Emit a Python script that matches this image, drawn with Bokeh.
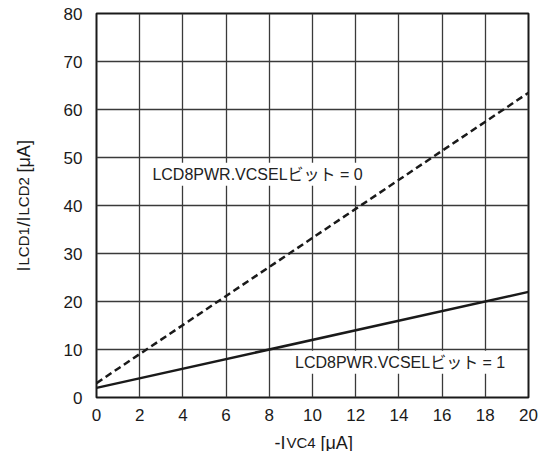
import math
from bokeh.plotting import figure
from bokeh.models import Label, Range1d, FixedTicker
from bokeh.layouts import column, row
from bokeh.embed import file_html
from bokeh.resources import INLINE

x_vals = [0, 20]
vcsel0 = [3.0, 63.5]
vcsel1 = [2.0, 22.0]
x_ticks = list(range(0, 21, 2))
y_ticks = list(range(0, 81, 10))
label0 = "LCD8PWR.VCSELビット = 0"
label1 = "LCD8PWR.VCSELビット = 1"
xlabel_parts = ["-I", "VC4", "[μA]"]
ylabel_parts = ["I", "LCD1", "/I", "LCD2", "[μA]"]

FONT = "Liberation Sans, Noto Sans CJK JP"
INK = "#1a1a1a"
YL_W = 40          # width of the y-title strip
MAIN_H = 425       # height of main figure
XL_H = 26          # height of the x-title strip


def blank(width, height):
    f = figure(width=width, height=height, output_backend="svg", toolbar_location=None,
               x_range=Range1d(0, width), y_range=Range1d(0, height),
               x_axis_location=None, y_axis_location=None,
               min_border=0, min_border_left=0, min_border_right=0,
               min_border_top=0, min_border_bottom=0)
    f.title.visible = False
    f.grid.visible = False
    f.outline_line_color = None
    f.background_fill_color = "white"
    f.border_fill_color = "white"
    return f


p = figure(frame_width=432, frame_height=384, output_backend="svg", toolbar_location=None,
           x_range=Range1d(0, 20), y_range=Range1d(0, 80),
           min_border_left=96 - YL_W, min_border_right=17, min_border_top=13,
           min_border_bottom=MAIN_H - 13 - 384)
p.background_fill_color = "white"
p.border_fill_color = "white"
p.outline_line_color = INK
p.outline_line_width = 2

for ax in (p.xaxis, p.yaxis):
    ax.axis_line_color = None
    ax.major_tick_line_color = None
    ax.minor_tick_line_color = None
    ax.major_label_text_font = FONT
    ax.major_label_text_font_size = "17px"
    ax.major_label_text_color = INK

p.xaxis.ticker = FixedTicker(ticks=x_ticks)
p.yaxis.ticker = FixedTicker(ticks=y_ticks)
p.xaxis.major_label_standoff = 5
p.yaxis.major_label_standoff = 8

p.xgrid.ticker = FixedTicker(ticks=x_ticks)
p.ygrid.ticker = FixedTicker(ticks=y_ticks)
for g in (p.xgrid, p.ygrid):
    g.grid_line_color = "#3a3a3a"
    g.grid_line_width = 1.3

p.line(x_vals, vcsel0, line_color=INK, line_width=2.5, line_dash="7 4")
p.line(x_vals, vcsel1, line_color=INK, line_width=2.5)

for txt, lx, ly in ((label0, 2.45, 46.5), (label1, 9.05, 7.35)):
    p.add_layout(Label(x=lx, y=ly, text=txt, text_font=FONT, text_font_size="16px",
                       text_color="#222222", text_baseline="middle",
                       background_fill_color="white", padding=3))

# y-axis title strip (rotated, with subscripts)
ylab = blank(YL_W, MAIN_H)
y_pos = [299, 293, 254, 243, 200]
y_size = ["18px", "15px", "18px", "15px", "18px"]
for t, yp, fs in zip(ylabel_parts, y_pos, y_size):
    ylab.add_layout(Label(x=23, y=MAIN_H - yp, x_units="screen", y_units="screen", text=t,
                          angle=math.pi / 2, text_font=FONT, text_font_size=fs,
                          text_color=INK, text_baseline="alphabetic"))

# x-axis title strip (with subscript)
xlab = blank(YL_W + p.min_border_left + 432 + 17, XL_H)
x_pos = [274, 286, 320]
x_size = ["18px", "15px", "18px"]
for t, xp, fs in zip(xlabel_parts, x_pos, x_size):
    xlab.add_layout(Label(x=xp, y=XL_H - (442 - MAIN_H), x_units="screen", y_units="screen",
                          text=t, text_font=FONT, text_font_size=fs, text_color=INK,
                          text_baseline="alphabetic"))

layout = column(row(ylab, p, spacing=0), xlab, spacing=0)
open("out.html", "w").write(file_html(layout, INLINE))
